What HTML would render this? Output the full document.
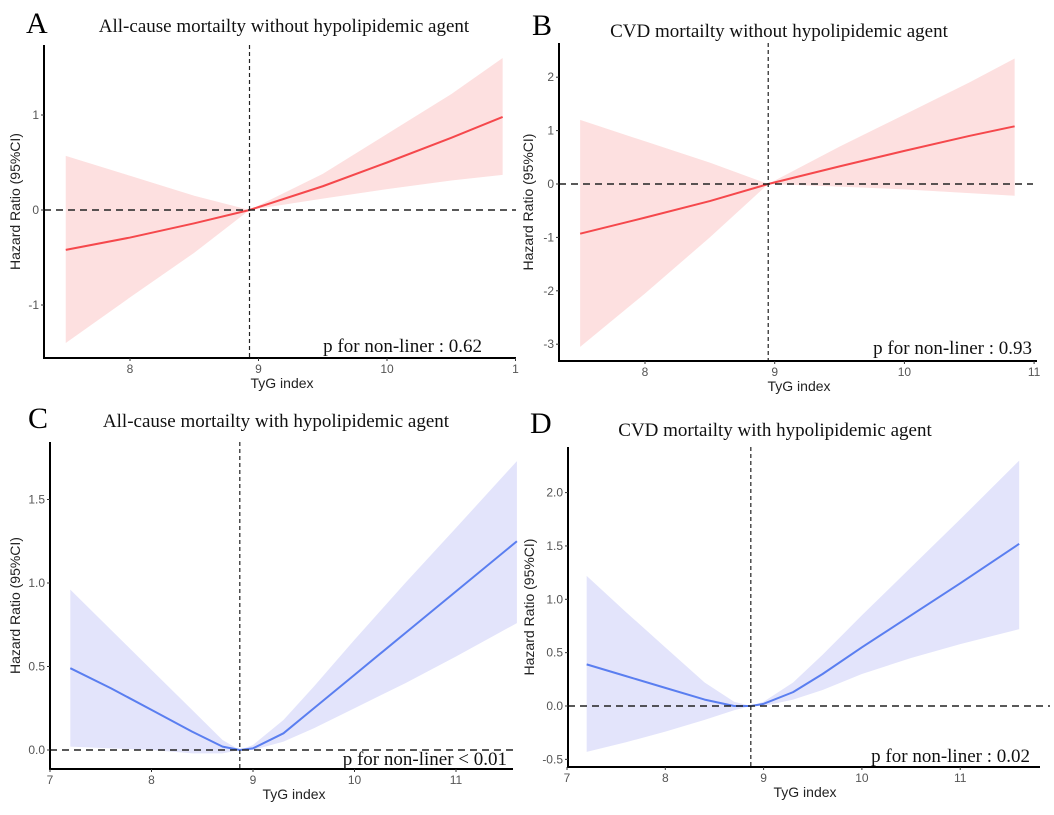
<!DOCTYPE html>
<html><head><meta charset="utf-8"><style>
body{margin:0;background:#fff;}
svg text{font-family:"Liberation Sans",sans-serif;}
.serif{font-family:"Liberation Serif",serif !important;}
</style></head><body>
<svg id="fig" width="1054" height="810" xmlns="http://www.w3.org/2000/svg"></svg>
<script>
// Panel A data
const xsA=[7.5,8,8.5,8.93,9.5,10,10.5,10.9];
const fitA=[-0.42,-0.29,-0.14,0,0.25,0.5,0.76,0.98];
const loA=[-1.4,-0.92,-0.45,0,0.12,0.22,0.31,0.37];
const hiA=[0.57,0.36,0.15,0,0.38,0.8,1.22,1.6];
const xTicksA=[8,9,10,11];const xTickLabA=["8","9","10","1"];
const yTicksA=[-1,0,1];const yTickLabA=["-1","0","1"];
// Panel B data
const xsB=[7.5,8,8.5,8.95,9.5,10,10.5,10.85];
const fitB=[-0.93,-0.63,-0.32,0,0.33,0.62,0.9,1.08];
const loB=[-3.05,-2.05,-1.0,0,-0.05,-0.1,-0.17,-0.22];
const hiB=[1.2,0.8,0.4,0,0.7,1.3,1.9,2.35];
const xTicksB=[8,9,10,11];const xTickLabB=["8","9","10","11"];
const yTicksB=[-3,-2,-1,0,1,2];const yTickLabB=["-3","-2","-1","0","1","2"];
// Panel C data
const xsC=[7.2,7.6,8,8.4,8.7,8.87,9,9.3,9.6,10,10.5,11,11.6];
const fitC=[0.49,0.37,0.24,0.11,0.02,0,0.01,0.1,0.25,0.45,0.7,0.95,1.25];
const loC=[0.02,0.01,0.0,-0.02,-0.02,0,0,0.05,0.13,0.25,0.4,0.56,0.76];
const hiC=[0.96,0.72,0.48,0.24,0.06,0,0.03,0.18,0.38,0.66,1.0,1.33,1.73];
const xTicksC=[7,8,9,10,11];const xTickLabC=["7","8","9","10","11"];
const yTicksC=[0,0.5,1,1.5];const yTickLabC=["0.0","0.5","1.0","1.5"];
// Panel D data
const xsD=[7.2,7.6,8,8.4,8.7,8.87,9,9.3,9.6,10,10.5,11,11.6];
const fitD=[0.39,0.28,0.17,0.06,0.0,0,0.02,0.13,0.3,0.55,0.85,1.15,1.52];
const loD=[-0.43,-0.34,-0.24,-0.13,-0.04,0,0,0.06,0.15,0.3,0.45,0.58,0.72];
const hiD=[1.22,0.88,0.55,0.22,0.04,0,0.04,0.22,0.48,0.85,1.3,1.75,2.3];
const xTicksD=[7,8,9,10,11];const xTickLabD=["7","8","9","10","11"];
const yTicksD=[-0.5,0,0.5,1,1.5,2];const yTickLabD=["-0.5","0.0","0.5","1.0","1.5","2.0"];

const NS="http://www.w3.org/2000/svg";
const svg=document.getElementById('fig');
function mk(tag,attrs,parent,txt){const e=document.createElementNS(NS,tag);for(const k in attrs)e.setAttribute(k,attrs[k]);if(txt!==undefined)e.textContent=txt;(parent||svg).appendChild(e);return e;}

function panel(c){
  const g=mk('g',{});
  
  
  const sx=v=>c.x0px+(v-c.x0v)*c.xs;
  const sy=v=>c.y0px-(v)*c.ys;
  let d='M'+c.xsArr.map((x,i)=>sx(x)+','+sy(c.hi[i])).join(' L');
  for(let i=c.xsArr.length-1;i>=0;i--)d+=' L'+sx(c.xsArr[i])+','+sy(c.lo[i]);
  const band=mk('path',{d:d+'Z',fill:c.band,stroke:'none'},g);
  
  
  const ln=mk('polyline',{points:c.xsArr.map((x,i)=>sx(x)+','+sy(c.fit[i])).join(' '),fill:'none',stroke:c.line,'stroke-width':2,'stroke-linejoin':'round'},g);
  
  
  const h=mk('line',{x1:c.axL,x2:c.hEnd,y1:sy(0),y2:sy(0),stroke:'#222','stroke-width':1.5,'stroke-dasharray':'7,5'},g);
  
  
  const v=mk('line',{x1:sx(c.vline),x2:sx(c.vline),y1:c.axT,y2:c.axB,stroke:'#222','stroke-width':1.2,'stroke-dasharray':'4,3'},g);
  
  
  const ya=mk('line',{x1:c.axL,x2:c.axL,y1:c.axT,y2:c.axB,stroke:'#000','stroke-width':2},g);
  
  
  const xa=mk('line',{x1:c.axL-1,x2:c.axR,y1:c.axB,y2:c.axB,stroke:'#000','stroke-width':2},g);
  
  
  c.xt.forEach((t,i)=>{
    mk('line',{x1:sx(t),x2:sx(t),y1:c.axB,y2:c.axB+3,stroke:'#333'},g);
    const tx=mk('text',{x:sx(t),y:c.axB+15,'font-size':12,fill:'#555','text-anchor':'middle'},g,c.xl[i]);
    
    
  });
  c.yt.forEach((t,i)=>{
    mk('line',{x1:c.axL-3,x2:c.axL,y1:sy(t),y2:sy(t),stroke:'#333'},g);
    const tx=mk('text',{x:c.axL-5,y:sy(t)+4,'font-size':12,fill:'#555','text-anchor':'end'},g,c.yl[i]);
    
    
  });
  const xt=mk('text',{x:c.xTitleX,y:c.axB+30,'font-size':14,fill:'#222','text-anchor':'middle'},g,'TyG index');
  
  
  const yy=(c.axT+c.axB)/2;
  const yt=mk('text',{x:c.yTitleX,y:yy,'font-size':14,fill:'#222','text-anchor':'middle',transform:'rotate(-90 '+c.yTitleX+' '+yy+')'},g,'Hazard Ratio (95%CI)');
  
  
  const L=mk('text',{x:c.letX,y:c.letY,'font-size':30,fill:'#000',class:'serif'},g,c.id);
  
  
  const T=mk('text',{x:c.titX,y:c.titY,'font-size':19,fill:'#111','text-anchor':'middle',class:'serif'},g,c.title);
  
  
  const P=mk('text',{x:c.pX,y:c.pY,'font-size':19,fill:'#111','text-anchor':'end',class:'serif'},g,c.p);
  
  
}
panel({id:'A',xsArr:xsA,fit:fitA,lo:loA,hi:hiA,xt:xTicksA,xl:xTickLabA,yt:yTicksA,yl:yTickLabA,
  x0v:8,x0px:130,xs:128.5,y0px:210,ys:95,axL:44,axR:516,axT:45,axB:358,hEnd:516,vline:8.93,
  band:'#fde0e0',line:'#f5484c',xTitleX:282,yTitleX:20,letX:26,letY:33,titX:284,titY:32,
  title:'All-cause mortailty without hypolipidemic agent',pX:482,pY:352,p:'p for non-liner : 0.62'});
panel({id:'B',xsArr:xsB,fit:fitB,lo:loB,hi:hiB,xt:xTicksB,xl:xTickLabB,yt:yTicksB,yl:yTickLabB,
  x0v:8,x0px:645,xs:129.7,y0px:184,ys:53.4,axL:559,axR:1037,axT:43,axB:361,hEnd:1033,vline:8.95,
  band:'#fde0e0',line:'#f5484c',xTitleX:799,yTitleX:533,letX:532,letY:35,titX:779,titY:37,
  title:'CVD mortailty without hypolipidemic agent',pX:1032,pY:354,p:'p for non-liner : 0.93'});
panel({id:'C',xsArr:xsC,fit:fitC,lo:loC,hi:hiC,xt:xTicksC,xl:xTickLabC,yt:yTicksC,yl:yTickLabC,
  x0v:7,x0px:50,xs:101.5,y0px:750,ys:167,axL:50,axR:513,axT:442,axB:769,hEnd:513,vline:8.87,
  band:'#e3e4fb',line:'#5a7ef0',xTitleX:294,yTitleX:20,letX:28,letY:428,titX:276,titY:427,
  title:'All-cause mortailty with hypolipidemic agent',pX:507,pY:765,p:'p for non-liner < 0.01'});
panel({id:'D',xsArr:xsD,fit:fitD,lo:loD,hi:hiD,xt:xTicksD,xl:xTickLabD,yt:yTicksD,yl:yTickLabD,
  x0v:7,x0px:567,xs:98.3,y0px:706,ys:106.7,axL:568,axR:1040,axT:447,axB:767,hEnd:1050,vline:8.87,
  band:'#e3e4fb',line:'#5a7ef0',xTitleX:805,yTitleX:534,letX:530,letY:433,titX:775,titY:436,
  title:'CVD mortailty with hypolipidemic agent',pX:1030,pY:762,p:'p for non-liner : 0.02'});
</script>
</body></html>
